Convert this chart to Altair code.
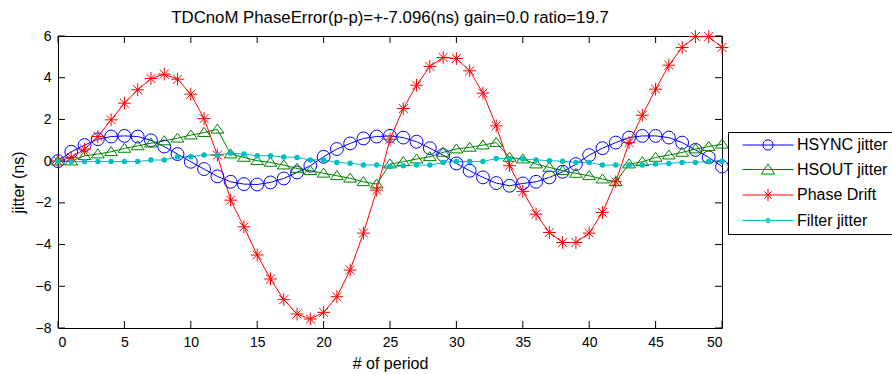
import altair as alt
import pandas as pd

periods = list(range(51))
series_names = ["HSYNC jitter", "HSOUT jitter", "Phase Drift", "Filter jitter"]
series_colors = ["#0000FF", "#008000", "#FF0000", "#00BFBF"]

hsync = [0.0, 0.45, 0.77, 1.05, 1.18, 1.21, 1.18, 1.0, 0.7, 0.34,
         -0.03, -0.38, -0.73, -0.99, -1.1, -1.12, -1.02, -0.83, -0.54, -0.22,
         0.21, 0.58, 0.85, 1.09, 1.18, 1.21, 1.13, 0.93, 0.62, 0.29,
         -0.11, -0.46, -0.78, -1.05, -1.18, -1.07, -0.99, -0.78, -0.51, -0.14,
         0.29, 0.62, 0.89, 1.13, 1.21, 1.21, 1.13, 0.89, 0.54, 0.18, -0.26]
hsout = [0.0, 0.0, 0.26, 0.34, 0.45, 0.61, 0.73, 0.86, 0.97, 1.1,
         1.25, 1.37, 1.53, 0.34, 0.18, 0.02, -0.06, -0.19, -0.35, -0.46,
         -0.58, -0.7, -0.82, -0.99, -1.1, -0.14, -0.03, 0.1, 0.21, 0.42,
         0.58, 0.66, 0.77, 0.89, 0.18, 0.1, -0.14, -0.3, -0.46, -0.59,
         -0.7, -0.86, -0.99, -0.14, -0.03, 0.18, 0.29, 0.42, 0.58, 0.7, 0.81]
phase = [0.0, 0.18, 0.58, 1.18, 1.98, 2.78, 3.42, 3.96, 4.17, 3.93,
         3.21, 2.04, 0.29, -1.87, -3.15, -4.5, -5.65, -6.64, -7.33, -7.57,
         -7.25, -6.5, -5.22, -3.45, -1.39, 1.05, 2.52, 3.64, 4.54, 4.97,
         4.92, 4.33, 3.26, 1.69, -0.22, -1.45, -2.54, -3.42, -3.9, -3.9,
         -3.45, -2.46, -0.99, 0.89, 2.2, 3.45, 4.6, 5.45, 5.97, 5.97, 5.45]
filt = [0.0, -0.02, -0.02, -0.02, -0.02, -0.02, -0.02, 0.05, 0.06, 0.21,
        0.21, 0.3, 0.3, 0.38, 0.34, 0.26, 0.26, 0.2, 0.18, 0.06,
        0.06, -0.06, -0.1, -0.18, -0.19, -0.26, -0.22, -0.19, -0.19, -0.06,
        -0.02, -0.02, -0.02, 0.13, 0.13, 0.1, 0.06, 0.02, 0.0, -0.06,
        -0.06, -0.19, -0.19, -0.19, -0.19, -0.14, -0.11, -0.06, -0.06, -0.02, 0.0]

x_ticks = list(range(0, 51, 5))
y_ticks = list(range(-8, 7, 2))

rows = []
for name, vals in zip(series_names, [hsync, hsout, phase, filt]):
    for p, v in zip(periods, vals):
        rows.append({"period": p, "jitter": v, "series": name, "Series": name})
df = pd.DataFrame(rows)
xt = pd.DataFrame({"period": x_ticks})
yt = pd.DataFrame({"jitter": y_ticks})

FONT = "Liberation Sans"
W, H = 664, 292

xscale = alt.Scale(domain=[0, 50], nice=False, zero=False)
yscale = alt.Scale(domain=[-8, 6], nice=False, zero=False)
xaxis = alt.Axis(values=x_ticks, title="# of period", titleY=40, titleBaseline="alphabetic")
yaxis = alt.Axis(values=y_ticks, title="jitter (ns)", titleX=-35, titleY=H / 2,
                 titleAngle=270, titleAlign="center", titleBaseline="alphabetic")

def X():
    return alt.X("period:Q", scale=xscale, axis=xaxis)

def Y():
    return alt.Y("jitter:Q", scale=yscale, axis=yaxis)

cscale = alt.Scale(domain=series_names, range=series_colors)

STAR = "M-1,0L1,0M0,-1L0,1M-0.7,-0.7L0.7,0.7M-0.7,0.7L0.7,-0.7"
TRI = "M0,-0.8L1,0.6L-1,0.6Z"

lines = alt.Chart(df).mark_line(strokeWidth=1).encode(
    x=X(), y=Y(), color=alt.Color("series:N", scale=cscale, legend=None)
)

marker_df_names = series_names[:3]
pts = alt.Chart(df).transform_filter(
    alt.FieldOneOfPredicate(field="series", oneOf=marker_df_names)
).mark_point(filled=False, strokeWidth=1, opacity=1, size=165).encode(
    x=X(), y=Y(),
    color=alt.Color("series:N", scale=cscale, legend=None),
    shape=alt.Shape("series:N", scale=alt.Scale(domain=marker_df_names,
                                                 range=["circle", TRI, STAR]), legend=None),
)

dots = alt.Chart(df).transform_filter(
    alt.datum.series == "Filter jitter"
).mark_circle(size=30, opacity=1, color="#00BFBF").encode(x=X(), y=Y())

LEG_PATHS = [
    "M-5,0L5,0M-1,0A1,1 0 1,1 1,0A1,1 0 1,1 -1,0",
    "M-5,0L5,0M0,-1.1L1.3,0.9L-1.3,0.9Z",
    "M-5,0L5,0M0,-1.2L0,1.2M-0.7,-0.7L0.7,0.7M-0.7,0.7L0.7,-0.7",
    "M-5,0L5,0M-0.45,0A0.45,0.45 0 1,1 0.45,0A0.45,0.45 0 1,1 -0.45,0M-0.25,0A0.25,0.25 0 1,1 0.25,0A0.25,0.25 0 1,1 -0.25,0M-0.08,0A0.08,0.08 0 1,1 0.08,0A0.08,0.08 0 1,1 -0.08,0",
]

leg = alt.Legend(
    title=None, orient="none", legendX=670, legendY=96,
    strokeColor="black", fillColor="white", padding=5,
    symbolSize=104, symbolStrokeWidth=1, symbolOffset=27, symbolOpacity=1,
    symbolFillColor="transparent",
    labelOffset=21, labelFontSize=16, labelFont=FONT, labelColor="black",
    rowPadding=8.5, labelLimit=300,
)

legend_layer = alt.Chart(df).mark_point(filled=False, opacity=0).encode(
    x=X(), y=Y(),
    color=alt.Color("Series:N", scale=alt.Scale(domain=series_names, range=series_colors), legend=leg),
    shape=alt.Shape("Series:N", scale=alt.Scale(domain=series_names, range=LEG_PATHS), legend=leg),
)

TL = 7
xt_bot = alt.Chart(xt).mark_rule(color="black", strokeWidth=1).encode(
    x=alt.X("period:Q", scale=xscale, axis=xaxis), y=alt.value(H), y2=alt.value(H - TL))
xt_top = alt.Chart(xt).mark_rule(color="black", strokeWidth=1).encode(
    x=alt.X("period:Q", scale=xscale, axis=xaxis), y=alt.value(0), y2=alt.value(TL))
yt_left = alt.Chart(yt).mark_rule(color="black", strokeWidth=1).encode(
    y=alt.Y("jitter:Q", scale=yscale, axis=yaxis), x=alt.value(0), x2=alt.value(TL))
yt_right = alt.Chart(yt).mark_rule(color="black", strokeWidth=1).encode(
    y=alt.Y("jitter:Q", scale=yscale, axis=yaxis), x=alt.value(W), x2=alt.value(W - TL))

chart = alt.layer(
    xt_bot, xt_top, yt_left, yt_right, lines, pts, dots, legend_layer
).resolve_scale(
    color="independent", shape="independent"
).properties(
    width=W, height=H,
    padding={"left": 58, "top": 36, "right": 170, "bottom": 46},
    autosize=alt.AutoSizeParams(type="none"),
    title=alt.TitleParams(
        "TDCnoM PhaseError(p-p)=+-7.096(ns) gain=0.0 ratio=19.7",
        fontSize=16.8, fontWeight="normal", font=FONT, color="black",
        baseline="alphabetic", offset=13, anchor="middle", dy=25,
    ),
).configure(
    font=FONT, background="white"
).configure_view(
    stroke="black", strokeWidth=1
).configure_axis(
    ticks=False, domain=False, grid=False,
    labelFont=FONT, labelFontSize=14, labelColor="black", labelPadding=7,
    titleFont=FONT, titleFontSize=16, titleFontWeight="normal", titleColor="black",
)

chart.save("out.html", embed_options={"renderer": "svg", "actions": False})
